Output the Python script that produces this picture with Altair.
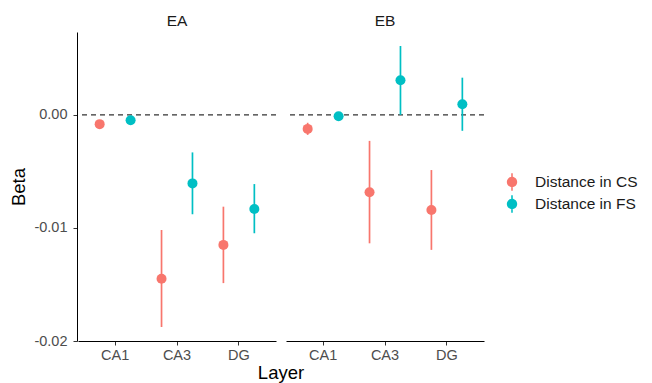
import altair as alt
import pandas as pd

experiments = ["EA"] * 6 + ["EB"] * 6
layers = ["CA1", "CA1", "CA3", "CA3", "DG", "DG"] * 2
measures = ["Distance in CS", "Distance in FS"] * 6
beta = [-0.00082, -0.00047, -0.0145, -0.00606, -0.0115, -0.00832,
        -0.00124, -0.00012, -0.00685, 0.00306, -0.00841, 0.00094]
upper = [-0.00060, -0.00030, -0.01018, -0.00332, -0.00812, -0.00612,
         -0.00070, 0.00005, -0.00230, 0.00609, -0.00488, 0.00329]
lower = [-0.00104, -0.00064, -0.01876, -0.00879, -0.01488, -0.01047,
         -0.00177, -0.00030, -0.01136, 0.00000, -0.01194, -0.00141]

df = pd.DataFrame({"Experiment": experiments, "Layer": layers, "Measure": measures,
                   "Beta": beta, "lower": lower, "upper": upper})

FONT = "Liberation Sans"
colors = ["#F8766D", "#00BFC4"]
measure_order = ["Distance in CS", "Distance in FS"]

legend_symbol = ("M-0.09,-1 L0.09,-1 L0.09,1 L-0.09,1 Z "
                 "M0.6,0 A0.6,0.6 0 1,1 -0.6,0 A0.6,0.6 0 1,1 0.6,0 Z")

xenc = alt.X("Layer:N", title=None,
             scale=alt.Scale(paddingInner=0, paddingOuter=0.1),
             axis=alt.Axis(labelAngle=0))
xoff = alt.XOffset("Measure:N", scale=alt.Scale(domain=measure_order))
yscale = alt.Scale(domain=[-0.02, 0.00733], nice=False, zero=False)
color = alt.Color("Measure:N", title=None,
                  scale=alt.Scale(domain=measure_order, range=colors),
                  legend=alt.Legend(orient="none", legendX=425, legendY=141,
                                    symbolType=legend_symbol, symbolSize=300,
                                    symbolStrokeWidth=0, labelFontSize=15.5,
                                    labelColor="#1a1a1a", labelFont=FONT,
                                    rowPadding=4, labelOffset=14, padding=0))

zero = alt.Chart().transform_aggregate(
    n="count()", groupby=["Experiment"]
).transform_calculate(zero="0").mark_rule(
    color="#333333", strokeDash=[5, 4], strokeWidth=1.1
).encode(y=alt.Y("zero:Q", scale=yscale))

bars = alt.Chart().mark_rule(strokeWidth=1.7).encode(
    x=xenc, xOffset=xoff,
    y=alt.Y("lower:Q", scale=yscale),
    y2="upper:Q",
    color=color,
)

points = alt.Chart().mark_circle(size=100, opacity=1).encode(
    x=xenc, xOffset=xoff,
    y=alt.Y("Beta:Q", scale=yscale, title="Beta",
            axis=alt.Axis(values=[-0.02, -0.01, 0.0],
                          labelExpr="replace(format(datum.value, '.2f'), '\u2212', '-')")),
    color=color,
)

chart = alt.layer(zero, bars, points, data=df).properties(
    width=198, height=309
).facet(
    column=alt.Column("Experiment:N", title="Layer",
                      header=alt.Header(titleOrient="bottom", labelOrient="top",
                                        labelFontSize=15.5, labelColor="#1a1a1a", labelFont=FONT,
                                        titleFontSize=18.5, titleColor="#000000", titleFont=FONT,
                                        titleFontWeight="normal", labelPadding=3, titlePadding=-8))
).properties(
    padding={"left": 1, "top": 5, "right": 0, "bottom": 0}
).configure_facet(spacing=8).configure_view(strokeWidth=0).configure_axis(
    grid=False, domainColor="#000000", domainWidth=1, tickColor="#333333",
    tickSize=4, labelFontSize=14.5, labelColor="#4d4d4d", labelFont=FONT,
    titleFont=FONT, titleFontSize=18.5, titleColor="#000000", titleFontWeight="normal",
    labelPadding=3
).configure_axisY(labelPadding=6, titlePadding=5)

chart.save("out.html", embed_options={"renderer": "svg", "actions": False})
